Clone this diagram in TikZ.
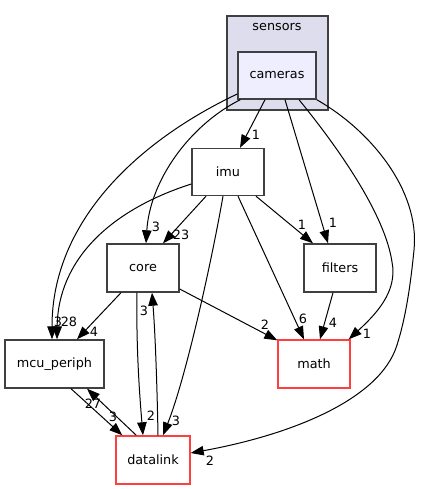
\documentclass[tikz,border=0pt]{standalone}
\usepackage{fontspec}
\setmainfont{DejaVu Sans}
\usetikzlibrary{arrows.meta,calc}
\definecolor{clfill}{HTML}{DDDDEE}
\definecolor{camfill}{HTML}{EEEEFF}
\definecolor{bord}{HTML}{404040}
\definecolor{redb}{HTML}{FF4040}
\tikzset{
  dir/.style={draw=bord,line width=1.4pt,fill=white,minimum width=72pt,minimum height=47pt,inner sep=0pt,font=\fontsize{12.8}{15}\selectfont},
  reddir/.style={dir,draw=redb},
  dep/.style={draw=black,line width=1pt,-{Triangle[length=13pt,width=9.5pt]}},
  lab/.style={inner sep=0pt,font=\fontsize{12.8}{15}\selectfont}
}
\begin{document}
\begin{tikzpicture}[x=1pt,y=-1pt]
\useasboundingbox (0,0) rectangle (421,489);
% cluster
\draw[draw=bord,line width=1.4pt,fill=clfill] (227,16) rectangle (328,110);
\node[lab] (sensorslab) at (277,27.5) {sensors};
\node[dir,fill=camfill,minimum width=78pt] (cameras) at (277,75.5) {cameras};
\node[dir] (imu) at (228,172) {imu};
\node[dir,minimum height=48pt] (core) at (143,268) {core};
\node[dir,minimum height=48pt] (filters) at (340,268) {filters};
\node[dir,minimum width=99pt,minimum height=48pt] (mcu) at (54.5,364) {mcu\_periph};
\node[reddir,minimum height=48pt] (math) at (314,364) {math};
\node[reddir,minimum width=74pt,minimum height=48pt] (datalink) at (153,460) {datalink};

% cameras -> imu
\draw[dep] ($(cameras.south)+(-12,0)$) -- ($(imu.north)+(12,0)$);
\node[lab] (l1) at (256,135) {1};
% cameras -> core
\draw[dep] ($(cameras.south west)+(3,0)$) .. controls (190,125) and (150,180) .. ($(core.north)+(3,0)$);
\node[lab] (l2) at (156,227) {3};
% cameras -> filters
\draw[dep] ($(cameras.south)+(8,0)$) -- ($(filters.north)+(-12,0)$);
\node[lab] (l3) at (333,223) {1};
% cameras -> math
\draw[dep] ($(cameras.south)+(22,0)$) .. controls (340,150) and (385,215) .. (392,262) .. controls (398,292) and (375,315) .. ($(math.north east)+(-2,0)$);
\node[lab] (l4) at (367,334) {1};
% cameras -> datalink
\draw[dep] (cameras.south east) .. controls (370,130) and (420,190) .. (414,250) .. controls (410,290) and (405,320) .. (397,345) .. controls (380,400) and (290,435) .. ($(datalink.east)+(0,-7)$);
\node[lab] (l5) at (210,461) {2};
% cameras -> mcu_periph
\draw[dep] ($(cameras.west)+(0,18.5)$) .. controls (140,140) and (52,220) .. ($(mcu.north)+(-2.5,0)$);
\node[lab] (l6) at (58,322) {3};
% imu -> core
\draw[dep] ($(imu.south)+(-22,0)$) -- ($(core.north)+(20,0)$);
\node[lab] (l7) at (181,235) {23};
% imu -> mcu_periph
\draw[dep] ($(imu.west)+(0,12)$) .. controls (110,210) and (58,260) .. ($(mcu.north)+(2.5,0)$);
\node[lab] (l8) at (69,322) {28};
% imu -> datalink
\draw[dep] ($(imu.south)+(-5,0)$) .. controls (210,270) and (185,380) .. ($(datalink.north)+(10,0)$);
\node[lab] (l9) at (176,421) {3};
% imu -> math
\draw[dep] ($(imu.south)+(10,0)$) -- ($(math.north)+(-10,0)$);
\node[lab] (l10) at (303,319) {6};
% imu -> filters
\draw[dep] ($(imu.south)+(28,0)$) -- ($(filters.north)+(-27,0)$);
\node[lab] (l11) at (302,225) {1};
% core -> mcu_periph
\draw[dep] ($(core.south)+(-22,0)$) -- ($(mcu.north)+(22.5,0)$);
\node[lab] (l12) at (94,332) {4};
% core -> datalink
\draw[dep] ($(core.south)+(-6,0)$) .. controls (136,350) and (140,400) .. ($(datalink.north)+(-10,0)$);
\node[lab] (l13) at (151,416) {2};
% datalink -> core
\draw[dep] ($(datalink.north)+(5,0)$) .. controls (157,380) and (155,330) .. ($(core.south)+(9,0)$);
\node[lab] (l14) at (144,311) {3};
% core -> math
\draw[dep] ($(core.east)+(0,21)$) -- ($(math.north west)+(0,1)$);
\node[lab] (l15) at (265,325) {2};
% filters -> math
\draw[dep] ($(filters.south)+(-7,0)$) -- ($(math.north)+(6,0)$);
\node[lab] (l16) at (333,323) {4};
% mcu_periph -> datalink
\draw[dep] ($(mcu.south)+(16.5,0)$) -- ($(datalink.north west)+(7,0)$);
\node[lab] (l17) at (113,417) {3};
% datalink -> mcu_periph
\draw[dep] ($(datalink.north west)+(21,0)$) -- ($(mcu.south)+(32.5,0)$);
\node[lab] (l18) at (93,404) {27};
\end{tikzpicture}
\end{document}
